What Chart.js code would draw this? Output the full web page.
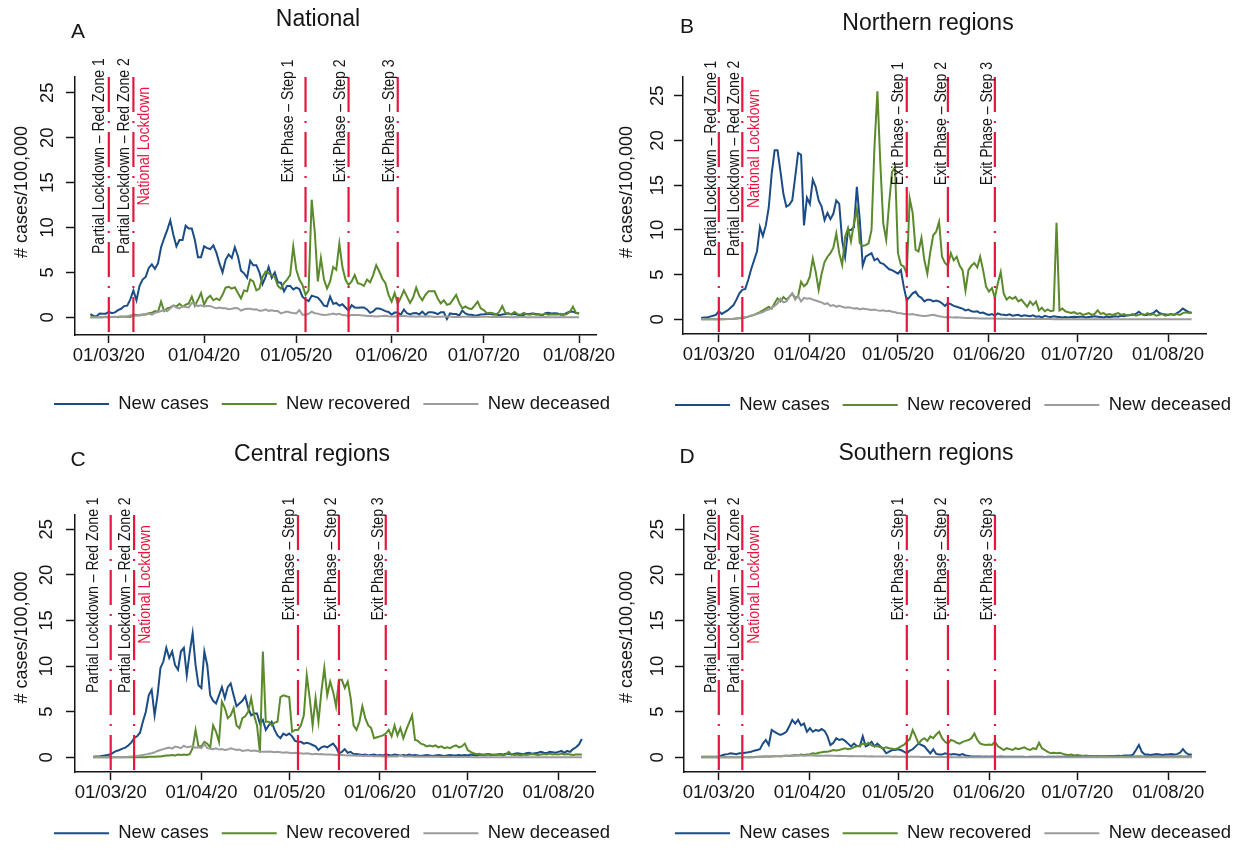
<!DOCTYPE html>
<html>
<head>
<meta charset="utf-8">
<script src="https://cdn.jsdelivr.net/npm/chart.js@4"></script>
<style>
  html, body { margin: 0; padding: 0; background: #fff; overflow: hidden; width: 1238px; height: 853px; }
  canvas { position: absolute; }
</style>
</head>
<body>
<canvas id="pA"></canvas>
<canvas id="pB"></canvas>
<canvas id="pC"></canvas>
<canvas id="pD"></canvas>
<script>
// x is days since 01/03/20
const tickDays = [0, 31, 61, 92, 122, 153];
const tickLabels = ['01/03/20', '01/04/20', '01/05/20', '01/06/20', '01/07/20', '01/08/20'];
const yTicks = [0, 5, 10, 15, 20, 25];
const seriesNames = ['New cases', 'New recovered', 'New deceased'];

const eventDays = [0, 8, 64, 78, 94];
const eventTexts = ['Partial Lockdown \u2013 Red Zone 1', 'Partial Lockdown \u2013 Red Zone 2', 'National Lockdown',
  'Exit Phase \u2013 Step 1', 'Exit Phase \u2013 Step 2', 'Exit Phase \u2013 Step 3'];

// National: 24/02 .. 01/08
const casesA = [0.35,0.15,0.13,0.42,0.4,0.4,
  0.6,0.45,0.55,0.8,0.95,1.25,1.3,2.0,3.0,1.9,
  3.5,4.2,4.5,5.5,5.9,5.4,6.0,7.8,8.8,9.7,
  10.8,9.2,7.9,8.6,8.6,10.2,9.9,9.9,8.6,6.7,
  6.7,7.9,7.7,7.6,8.0,7.2,6.0,5.0,6.4,7.0,
  6.6,7.8,6.8,5.2,4.9,4.4,6.3,5.8,5.8,5.0,
  3.7,4.5,5.6,4.4,5.0,3.9,3.85,2.9,3.5,3.5,
  3.1,3.3,3.15,2.3,2.0,1.8,2.4,2.3,2.2,1.8,
  1.3,1.23,2.3,1.5,1.6,1.3,1.45,1.1,0.75,1.35,
  1.1,1.06,1.08,1.1,0.88,0.5,0.66,0.97,0.98,0.86,
  0.69,0.59,0.3,0.53,0.53,0.29,0.86,0.45,0.33,0.46,
  0.47,0.33,0.63,0.27,0.57,0.56,0.5,0.35,0.55,0.55,
  -0.2,0.43,0.37,0.36,0.2,0.75,0.43,0.29,0.29,0.21,
  0.24,0.31,0.33,0.37,0.39,0.32,0.34,0.23,0.32,0.38,
  0.46,0.31,0.39,0.28,0.19,0.27,0.38,0.39,0.41,0.36,
  0.31,0.21,0.47,0.51,0.42,0.46,0.42,0.28,0.3,0.48,
  0.64,0.63,0.49,0.45];
const recoveredA = [0,0,0.01,0.02,0,0.05,
  0.02,0.03,0.05,0.02,0.1,0.07,0.1,0.05,0.3,0.25,
  0.2,0.3,0.35,0.45,0.5,0.7,0.6,1.75,0.7,1.0,
  1.1,1.3,1.2,1.5,1.2,1.4,1.55,2.3,1.3,1.95,
  2.7,1.4,2.1,2.4,1.9,2.1,1.9,2.5,3.3,3.4,
  3.2,3.35,2.7,2.1,3.0,2.9,4.2,4.0,3.0,3.2,
  4.5,5.1,4.9,4.7,4.5,3.5,3.2,3.8,4.2,4.7,
  7.9,5.3,4.2,3.6,2.5,3.0,13.1,9.5,4.0,6.6,
  4.2,3.2,4.0,5.6,5.3,8.2,5.6,4.2,3.6,4.0,
  4.7,3.8,3.7,3.5,4.2,3.9,4.7,5.8,5.1,4.3,
  3.8,2.5,1.75,2.7,1.5,2.2,3.0,2.3,1.6,2.2,
  3.3,2.4,1.9,2.5,2.9,2.9,2.9,2.1,1.56,1.9,
  1.4,1.5,2.0,2.5,1.6,1.0,1.2,1.0,0.9,1.3,
  1.75,1.0,0.8,0.45,0.5,0.45,0.3,0.6,1.26,0.5,
  0.4,0.35,0.6,0.35,0.3,0.5,0.35,0.3,0.4,0.3,
  0.35,0.3,0.4,0.3,0.35,0.3,0.3,0.4,0.3,0.35,
  0.6,1.2,0.5,0.4];
const deceasedA = [0.01,0,0.01,0.01,0.01,0.01,
  0.01,0.03,0.03,0.05,0.05,0.07,0.08,0.22,0.16,0.16,
  0.28,0.32,0.3,0.42,0.29,0.5,0.58,0.7,0.79,0.68,
  0.98,1.3,1.08,1.0,1.24,1.14,1.1,1.6,1.47,1.25,
  1.34,1.2,1.25,1.27,1.1,1.0,1.1,1.0,1.01,0.9,
  0.95,1.03,1.02,0.74,0.9,0.96,0.94,0.87,0.9,0.72,
  0.75,0.89,0.72,0.78,0.7,0.69,0.43,0.55,0.63,0.54,
  0.47,0.44,0.8,0.29,0.29,0.39,0.62,0.46,0.41,0.3,
  0.27,0.29,0.33,0.43,0.31,0.4,0.25,0.24,0.16,0.27,
  0.26,0.26,0.22,0.2,0.15,0.15,0.13,0.1,0.12,0.14,
  0.18,0.12,0.1,0.09,0.12,0.15,0.15,0.12,0.1,0.11,
  0.07,0.12,0.09,0.08,0.13,0.1,0.04,0.06,0.06,0.09,
  0.08,0.08,0.04,0.04,0.04,0.05,0.05,0.05,0.04,0.05,
  0.04,0.05,0.05,0.05,0.03,0.03,0.04,0.03,0.03,0.04,
  0.03,0.02,0.03,0.02,0.03,0.03,0.02,0.02,0.02,0.02,
  0.02,0.02,0.03,0.02,0.02,0.02,0.01,0.02,0.03,0.02,
  0.02,0.01,0.02,0.02];

// Northern regions: 24/02 .. 09/08
const casesB = [0.15,0.2,0.2,0.3,0.4,0.5,
  0.9,0.6,0.8,1.0,1.3,1.6,2.2,2.9,3.3,3.4,
  4.4,5.6,6.6,7.6,10.3,9.3,10.5,12.5,16.3,18.9,
  18.9,16.5,14.0,12.6,12.8,13.3,15.9,18.6,18.4,10.5,
  13.6,12.9,15.6,14.8,13.3,12.6,11.1,11.9,11.2,11.8,
  13.3,12.9,8.8,7.0,10.0,10.0,10.3,14.8,11.1,6.0,
  7.0,7.2,7.4,6.6,6.8,6.3,6.2,5.9,5.6,5.5,
  5.3,5.1,5.5,3.6,2.1,2.5,2.9,3.1,2.6,2.4,
  2.0,2.2,2.2,2.0,2.1,2.0,1.8,1.5,1.8,1.7,
  1.5,1.4,1.3,1.2,1.0,1.1,0.9,0.85,0.9,0.7,
  0.75,0.6,0.5,0.6,0.4,0.67,0.55,0.5,0.45,0.55,
  0.4,0.45,0.5,0.35,0.45,0.4,0.35,0.45,0.3,0.35,
  0.2,0.4,0.3,0.25,0.35,0.3,0.25,0.2,0.25,0.2,
  0.25,0.3,0.25,0.3,0.3,0.2,0.25,0.3,0.35,0.3,
  0.25,0.2,0.3,0.25,0.3,0.35,0.3,0.4,0.35,0.45,
  0.45,0.5,0.6,0.85,0.6,0.45,0.5,0.6,0.7,1.0,
  0.7,0.6,0.55,0.5,0.6,0.5,0.7,0.9,1.2,1.0,
  0.8,0.7];
const recoveredB = [0,0,0,0,0,0,
  0,0,0.02,0.03,0.05,0.07,0.1,0.12,0.15,0.2,
  0.3,0.4,0.5,0.67,0.8,1.0,1.2,1.4,1.2,1.8,
  2.35,2.0,2.5,2.2,2.5,2.9,2.4,2.6,4.2,3.7,
  4.0,4.8,6.8,5.3,3.3,5.1,6.4,7.0,7.4,8.0,
  9.6,7.4,6.1,9.2,10.2,8.7,10.7,12.3,8.5,8.2,
  8.3,8.5,10.0,19.3,25.5,17.4,10.7,8.9,13.0,16.5,
  17.0,7.4,6.1,5.9,5.1,13.5,11.9,7.8,7.6,9.1,
  6.6,5.1,7.5,9.4,9.8,10.9,7.0,6.3,6.0,7.4,
  6.6,7.0,6.0,5.5,3.2,5.5,6.0,6.3,5.8,7.0,
  5.5,3.65,3.1,3.5,2.4,4.0,5.3,2.9,2.2,2.5,
  2.3,2.5,2.0,2.2,1.8,1.4,2.0,1.6,2.0,1.0,
  1.3,0.9,1.1,0.9,1.0,10.8,1.0,1.2,0.9,0.8,
  0.7,0.8,0.6,0.7,0.5,0.6,0.7,0.5,0.6,1.0,
  0.6,0.7,0.5,0.6,0.5,0.6,0.7,0.5,0.6,0.4,
  0.5,0.6,0.4,0.5,0.6,0.5,0.7,0.5,0.6,0.4,
  0.5,0.6,0.4,0.5,0.6,0.5,0.6,0.5,0.7,0.8,
  0.7,0.8];
const deceasedB = [0,0,0,0,0,0,
  0.01,0.02,0.03,0.04,0.05,0.06,0.1,0.15,0.2,0.25,
  0.3,0.4,0.5,0.6,0.7,0.8,1.0,1.1,1.3,1.5,
  1.8,2.3,1.9,2.0,2.5,2.9,2.2,2.6,2.0,2.4,
  2.3,2.35,2.2,2.1,2.0,1.9,1.7,1.8,1.5,1.6,
  1.4,1.5,1.4,1.3,1.35,1.3,1.2,1.25,1.1,1.2,
  1.15,1.1,1.05,1.1,1.0,0.95,1.0,0.9,0.95,0.85,
  0.8,0.7,0.67,0.6,0.6,0.55,0.6,0.5,0.45,0.4,
  0.37,0.4,0.45,0.5,0.42,0.35,0.3,0.22,0.25,0.22,
  0.2,0.22,0.2,0.18,0.15,0.15,0.14,0.12,0.12,0.1,
  0.1,0.1,0.08,0.1,0.08,0.07,0.07,0.06,0.06,0.05,
  0.06,0.05,0.05,0.04,0.05,0.04,0.04,0.03,0.04,0.03,
  0.03,0.04,0.03,0.03,0.02,0.03,0.02,0.03,0.02,0.02,
  0.02,0.03,0.02,0.02,0.02,0.01,0.02,0.02,0.01,0.02,
  0.01,0.02,0.01,0.01,0.02,0.01,0.01,0.01,0.02,0.01,
  0.01,0.01,0.01,0.02,0.01,0.01,0.01,0.01,0.01,0.01,
  0.01,0.01,0.02,0.01,0.01,0.01,0.01,0.01,0.01,0.01,
  0.01,0.01];

// Central regions: 24/02 .. 09/08
const casesC = [0.07,0.1,0.1,0.15,0.2,0.25,
  0.33,0.55,0.7,0.8,0.95,1.06,1.3,1.6,2.1,2.3,
  2.7,3.9,5.0,6.8,7.4,4.6,6.8,9.8,10.5,12.0,
  10.9,11.6,10.1,9.6,11.6,12.0,9.0,11.5,13.6,10.1,
  7.9,7.6,11.6,10.1,6.8,6.2,5.9,6.8,7.7,6.5,
  7.7,8.1,6.8,5.6,5.9,6.2,6.7,5.4,4.6,4.8,
  4.8,3.7,4.1,3.0,3.5,3.9,3.0,2.4,2.1,2.6,
  2.4,2.6,2.3,1.8,1.7,1.7,1.5,1.6,1.5,1.35,
  1.2,0.8,1.1,1.2,1.1,1.3,1.5,1.1,0.44,0.6,
  0.9,0.5,0.6,0.33,0.35,0.3,0.25,0.3,0.2,0.25,
  0.3,0.2,0.25,0.2,0.3,0.25,0.2,0.3,0.25,0.2,
  0.25,0.2,0.3,0.2,0.25,0.2,0.15,0.2,0.25,0.2,
  0.15,0.2,0.25,0.2,0.15,0.2,0.25,0.2,0.2,0.25,
  0.2,0.25,0.2,0.3,0.25,0.2,0.3,0.25,0.3,0.35,
  0.3,0.25,0.3,0.35,0.3,0.4,0.35,0.3,0.4,0.45,
  0.4,0.35,0.45,0.5,0.4,0.45,0.5,0.6,0.5,0.45,
  0.6,0.55,0.5,0.6,0.7,0.5,0.7,0.6,0.9,1.1,
  1.4,2.0];
const recoveredC = [0,0,0,0,0,0,
  0,0,0,0,0,0,0,0,0,0,
  0,0,0.02,0.05,0.05,0.07,0.1,0.1,0.15,0.2,
  0.2,0.25,0.2,0.3,0.25,0.3,0.25,0.35,1.0,3.0,
  1.2,1.2,1.7,1.5,1.1,3.5,2.8,1.7,6.1,5.4,
  4.3,4.6,5.4,3.5,3.2,4.3,4.5,5.0,6.5,4.6,
  3.5,0.5,11.6,3.9,3.9,3.5,3.8,3.9,6.6,6.8,
  6.7,6.6,2.8,3.0,3.0,3.5,4.6,9.0,6.5,3.5,
  6.5,3.9,7.2,9.8,6.8,8.3,7.2,5.6,8.5,8.5,
  7.6,8.3,6.5,3.5,3.0,3.9,5.6,4.3,3.5,3.2,
  2.1,2.2,2.3,2.4,2.6,3.0,2.3,3.5,2.4,3.2,
  2.1,3.0,3.8,4.6,1.9,1.8,1.5,1.4,1.2,1.3,
  1.2,1.3,1.1,1.2,1.0,1.1,1.0,1.2,1.3,1.1,
  1.2,1.5,0.8,0.6,0.44,0.35,0.4,0.3,0.25,0.3,
  0.2,0.3,0.25,0.3,0.2,0.3,0.6,0.3,0.25,0.3,
  0.2,0.3,0.25,0.3,0.35,0.3,0.25,0.3,0.35,0.3,
  0.4,0.3,0.35,0.3,0.4,0.3,0.35,0.3,0.25,0.3,
  0.3,0.3];
const deceasedC = [0,0,0,0,0,0,
  0,0,0,0,0.02,0.03,0.05,0.08,0.1,0.15,
  0.2,0.25,0.3,0.4,0.44,0.55,0.7,0.8,0.9,1.0,
  1.06,0.95,1.17,1.1,1.0,1.28,1.1,1.15,1.2,1.05,
  1.1,1.0,1.45,1.0,0.95,0.9,1.0,0.85,0.9,0.8,
  0.85,1.0,0.9,0.8,0.85,0.7,0.75,0.8,0.7,0.75,
  0.7,0.65,0.62,0.6,0.65,0.6,0.55,0.6,0.55,0.5,
  0.55,0.5,0.45,0.5,0.44,0.45,0.4,0.45,0.4,0.35,
  0.38,0.33,0.35,0.3,0.32,0.3,0.28,0.25,0.27,0.25,
  0.22,0.2,0.22,0.2,0.18,0.2,0.15,0.17,0.15,0.14,
  0.12,0.13,0.12,0.1,0.12,0.1,0.1,0.12,0.1,0.25,
  0.1,0.08,0.1,0.08,0.07,0.08,0.06,0.07,0.06,0.05,
  0.06,0.05,0.05,0.04,0.05,0.04,0.04,0.03,0.04,0.03,
  0.03,0.03,0.04,0.03,0.02,0.03,0.02,0.02,0.03,0.02,
  0.02,0.02,0.02,0.01,0.02,0.02,0.01,0.02,0.01,0.01,
  0.01,0.02,0.01,0.01,0.01,0.02,0.01,0.01,0.01,0.01,
  0.01,0.01,0.01,0.01,0.01,0.01,0.01,0.01,0.01,0.01,
  0.01,0.01];

// Southern regions: 24/02 .. 09/08
const casesD = [0.07,0.05,0.05,0.05,0.07,0.05,
  0.07,0.2,0.3,0.35,0.45,0.4,0.35,0.45,0.44,0.5,
  0.55,0.62,0.73,0.8,0.9,1.5,1.9,1.35,3.0,2.8,
  2.6,2.45,2.6,2.8,3.4,4.1,3.7,4.1,3.5,3.7,
  2.8,3.2,2.8,3.0,2.9,3.1,2.9,2.3,1.35,1.6,
  2.1,1.9,2.0,1.8,1.5,1.2,1.5,1.25,1.2,2.3,
  1.2,1.35,1.7,1.2,1.5,1.2,0.9,0.44,0.62,0.8,
  0.8,0.88,0.8,0.62,0.44,0.73,0.88,1.2,1.5,1.35,
  1.2,0.8,0.44,0.88,0.37,0.3,0.3,0.44,0.35,0.3,
  0.35,0.3,0.25,0.35,0.2,0.15,0.1,0.1,0.08,0.1,
  0.07,0.08,0.06,0.1,0.07,0.05,0.08,0.06,0.05,0.07,
  0.05,0.06,0.05,0.07,0.05,0.04,0.06,0.05,0.05,0.06,
  0.05,0.04,0.06,0.05,0.05,0.07,0.05,0.06,0.08,0.06,
  0.07,0.05,0.08,0.1,0.07,0.08,0.1,0.08,0.1,0.12,
  0.1,0.12,0.1,0.15,0.12,0.15,0.18,0.15,0.2,0.2,
  0.2,0.3,0.8,1.35,0.6,0.3,0.3,0.25,0.3,0.35,
  0.3,0.25,0.3,0.3,0.35,0.3,0.35,0.5,0.9,0.5,
  0.3,0.3];
const recoveredD = [0,0,0,0,0,0,
  0,0,0,0,0,0,0,0,0,0,
  0,0.02,0.03,0.05,0.05,0.08,0.1,0.1,0.1,0.12,
  0.15,0.1,0.15,0.2,0.15,0.2,0.25,0.2,0.3,0.25,
  0.3,0.35,0.44,0.4,0.5,0.55,0.62,0.6,0.7,0.8,
  0.75,0.8,0.9,1.0,0.9,0.95,1.1,1.2,1.3,1.5,
  1.4,1.6,1.3,1.2,1.2,1.1,1.0,1.1,1.0,0.95,
  0.88,1.0,1.2,1.35,1.7,2.0,3.0,2.3,1.5,1.9,
  2.1,1.8,2.3,2.1,2.5,2.8,2.1,1.7,1.5,1.9,
  1.8,1.6,1.5,1.7,1.8,1.9,2.1,2.6,1.9,1.5,
  1.4,1.35,1.4,1.35,1.7,1.2,1.0,0.8,1.0,0.9,
  0.8,1.0,0.9,1.0,1.1,0.9,0.8,1.0,0.9,1.6,
  1.0,0.8,0.6,0.44,0.5,0.45,0.5,0.4,0.3,0.26,
  0.3,0.2,0.25,0.2,0.15,0.2,0.15,0.15,0.12,0.15,
  0.12,0.1,0.15,0.12,0.1,0.12,0.1,0.12,0.1,0.1,
  0.12,0.1,0.1,0.12,0.1,0.1,0.12,0.1,0.1,0.12,
  0.1,0.12,0.1,0.1,0.12,0.1,0.1,0.12,0.1,0.1,
  0.12,0.1];
const deceasedD = [0,0,0,0,0,0,
  0,0,0,0,0,0,0,0,0.01,0.01,
  0.01,0.01,0.02,0.03,0.05,0.06,0.08,0.1,0.12,0.13,
  0.15,0.14,0.17,0.15,0.18,0.2,0.17,0.22,0.2,0.18,
  0.2,0.22,0.2,0.18,0.2,0.17,0.18,0.2,0.16,0.17,
  0.15,0.16,0.14,0.15,0.13,0.14,0.12,0.13,0.12,0.11,
  0.12,0.1,0.11,0.1,0.09,0.1,0.08,0.09,0.08,0.07,
  0.08,0.07,0.06,0.07,0.06,0.05,0.06,0.05,0.05,0.04,
  0.05,0.04,0.04,0.03,0.04,0.03,0.03,0.03,0.02,0.03,
  0.02,0.02,0.03,0.02,0.02,0.02,0.01,0.02,0.01,0.01,
  0.01,0.01,0.02,0.01,0.01,0.01,0.01,0.02,0.01,0.01,
  0.01,0.01,0.01,0.01,0.02,0.01,0.01,0.01,0.01,0.01,
  0.01,0.01,0.01,0.01,0.01,0.01,0.01,0.01,0.01,0.01,
  0.01,0.01,0.01,0.01,0.01,0.01,0.01,0.01,0.01,0.01,
  0.01,0.01,0.01,0.01,0.01,0.01,0.01,0.01,0.01,0.01,
  0.01,0.01,0.01,0.01,0.01,0.01,0.01,0.01,0.01,0.01,
  0.01,0.01,0.01,0.01,0.01,0.01,0.01,0.01,0.01,0.01,
  0.01,0.01];

const FONT = '"Liberation Sans", Arial, Helvetica, sans-serif';
const BLUE = '#1c4c86', GREEN = '#5b8a2c', GREY = '#9c9c9c', RED = '#e5173f', INK = '#151515';
Chart.defaults.font.family = FONT;
Chart.defaults.color = INK;

const panels = [
  { id: 'pA', letter: 'A', title: 'National', left: 0, top: 0, w: 664, h: 426,
    data: [casesA, recoveredA, deceasedA], startDay: -6,
    xMin: -11, xMax: 158.5, yMin: -1.97, yMax: 26.76,
    yAxisW: 75, rightW: 68, padTop: 77, xAxisH: 46.75, padBottom: 2.75, yTickPad: 8.3,
    labelDays: [-3.2, 5.1, 11.6, 58.5, 75.2, 91.3],
    letterPos: [78, 32], titlePos: [318, 20], yTitlePos: [21.7, 192] },
  { id: 'pB', letter: 'B', title: 'Northern regions', left: 615, top: 0, w: 676, h: 426,
    data: [casesB, recoveredB, deceasedB], startDay: -6,
    xMin: -12.2, xMax: 165.9, yMin: -1.64, yMax: 27.09,
    yAxisW: 68, rightW: 85, padTop: 77, xAxisH: 48.75, padBottom: 1.75, yTickPad: 6.2,
    labelDays: [-2.7, 5.4, 12.1, 61, 75.7, 91.5],
    letterPos: [72, 27], titlePos: [313, 24], yTitlePos: [12, 192] },
  { id: 'pC', letter: 'C', title: 'Central regions', left: 0, top: 428, w: 664, h: 426,
    data: [casesC, recoveredC, deceasedC], startDay: -6,
    xMin: -12.2, xMax: 165.5, yMin: -1.61, yMax: 26.57,
    yAxisW: 75, rightW: 69, padTop: 87, xAxisH: 39, padBottom: 1.5, yTickPad: 9.1,
    labelDays: [-6.1, 5.1, 11.9, 61, 75.3, 91.5],
    letterPos: [78, 32], titlePos: [312, 27], yTitlePos: [21.7, 209.5] },
  { id: 'pD', letter: 'D', title: 'Southern regions', left: 615, top: 428, w: 676, h: 426,
    data: [casesD, recoveredD, deceasedD], startDay: -6,
    xMin: -11.85, xMax: 165.5, yMin: -1.61, yMax: 26.57,
    yAxisW: 69, rightW: 86, padTop: 87, xAxisH: 39, padBottom: 1.5, yTickPad: 7.2,
    labelDays: [-2.7, 5.4, 12.1, 61, 75.7, 91.5],
    letterPos: [72, 29], titlePos: [311, 26], yTitlePos: [12, 209] }
];
const labelStartValues = [7.05, 7.05, 12.45, 15.0, 15.0, 15.0];
const labelColors = [INK, INK, RED, INK, INK, INK];

const decor = {
  id: 'decor',
  afterDatasetsDraw(chart, args, opts) {
    const p = opts.panel;
    const { ctx, chartArea: a, scales: { x, y } } = chart;
    ctx.save();
    ctx.strokeStyle = RED;
    ctx.lineWidth = 2.2;
    ctx.setLineDash([35, 9, 2, 9]);
    eventDays.forEach(d => {
      const px = x.getPixelForValue(d);
      ctx.beginPath();
      ctx.moveTo(px, a.top);
      ctx.lineTo(px, a.bottom);
      ctx.stroke();
    });
    ctx.setLineDash([]);
    // condensed face in the source: squeeze a 17px face along the text
    ctx.font = '17px ' + FONT;
    ctx.textAlign = 'left';
    ctx.textBaseline = 'middle';
    eventTexts.forEach((t, i) => {
      ctx.save();
      ctx.translate(x.getPixelForValue(p.labelDays[i]), y.getPixelForValue(labelStartValues[i]));
      ctx.rotate(-Math.PI / 2);
      ctx.scale(0.825, 1);
      ctx.fillStyle = labelColors[i];
      ctx.fillText(t, 0, 0);
      ctx.restore();
    });
    ctx.restore();
  },
  afterDraw(chart, args, opts) {
    const p = opts.panel;
    const ctx = chart.ctx;
    ctx.save();
    ctx.fillStyle = INK;
    ctx.textAlign = 'center';
    ctx.textBaseline = 'middle';
    ctx.font = '21px ' + FONT;
    ctx.fillText(p.letter, p.letterPos[0], p.letterPos[1]);
    ctx.font = '23px ' + FONT;
    ctx.fillText(p.title, p.titlePos[0], p.titlePos[1]);
    ctx.translate(p.yTitlePos[0], p.yTitlePos[1]);
    ctx.rotate(-Math.PI / 2);
    ctx.font = '18px ' + FONT;
    ctx.fillText('# cases/100,000', 0, 0);
    ctx.restore();
  }
};

panels.forEach(p => {
  const cv = document.getElementById(p.id);
  cv.width = p.w;
  cv.height = p.h;
  cv.style.left = p.left + 'px';
  cv.style.top = p.top + 'px';
  const n = p.data[0].length;
  const days = Array.from({ length: n }, (_, i) => p.startDay + i);
  const colors = [BLUE, GREEN, GREY];

  new Chart(cv.getContext('2d'), {
    type: 'line',
    data: {
      labels: days,
      datasets: p.data.map((vals, i) => ({
        label: seriesNames[i],
        data: vals,
        borderColor: colors[i],
        backgroundColor: colors[i],
        borderWidth: 2,
        pointRadius: 0,
        tension: 0,
        order: 2 - i
      }))
    },
    options: {
      responsive: false,
      animation: false,
      devicePixelRatio: 1,
      layout: { padding: { top: p.padTop, bottom: p.padBottom, left: 0, right: 0 } },
      plugins: {
        legend: {
          position: 'bottom',
          align: 'center',
          labels: {
            usePointStyle: true,
            pointStyle: 'line',
            pointStyleWidth: 55,
            padding: 13,
            color: INK,
            font: { size: 18.5 },
            sort: (a, b) => a.datasetIndex - b.datasetIndex
          }
        },
        tooltip: { enabled: false },
        decor: { panel: p }
      },
      scales: {
        x: {
          type: 'linear',
          min: p.xMin,
          max: p.xMax,
          afterBuildTicks: s => { s.ticks = tickDays.map(v => ({ value: v })); },
          afterFit: s => { s.height = p.xAxisH; },
          ticks: {
            autoSkip: false,
            maxRotation: 0,
            padding: 2,
            color: INK,
            font: { size: 18.5 },
            callback: v => tickLabels[tickDays.indexOf(v)]
          },
          grid: { drawOnChartArea: false, drawTicks: true, tickLength: 8, color: INK, tickWidth: 1.5 },
          border: { display: true, color: INK, width: 1.5 }
        },
        y: {
          type: 'linear',
          position: 'left',
          min: p.yMin,
          max: p.yMax,
          afterBuildTicks: s => { s.ticks = yTicks.map(v => ({ value: v })); },
          afterFit: s => { s.width = p.yAxisW; },
          ticks: {
            minRotation: 90,
            maxRotation: 90,
            crossAlign: 'center',
            padding: p.yTickPad,
            color: INK,
            font: { size: 18.5 }
          },
          grid: { drawOnChartArea: false, drawTicks: true, tickLength: 9, color: INK, tickWidth: 1.5 },
          border: { display: true, color: INK, width: 1.5 }
        },
        spacer: {
          type: 'linear',
          axis: 'y',
          position: 'right',
          display: true,
          afterFit: s => { s.width = p.rightW; },
          ticks: { display: false },
          grid: { display: false },
          border: { display: false }
        }
      }
    },
    plugins: [decor]
  });
});
</script>
</body>
</html>
